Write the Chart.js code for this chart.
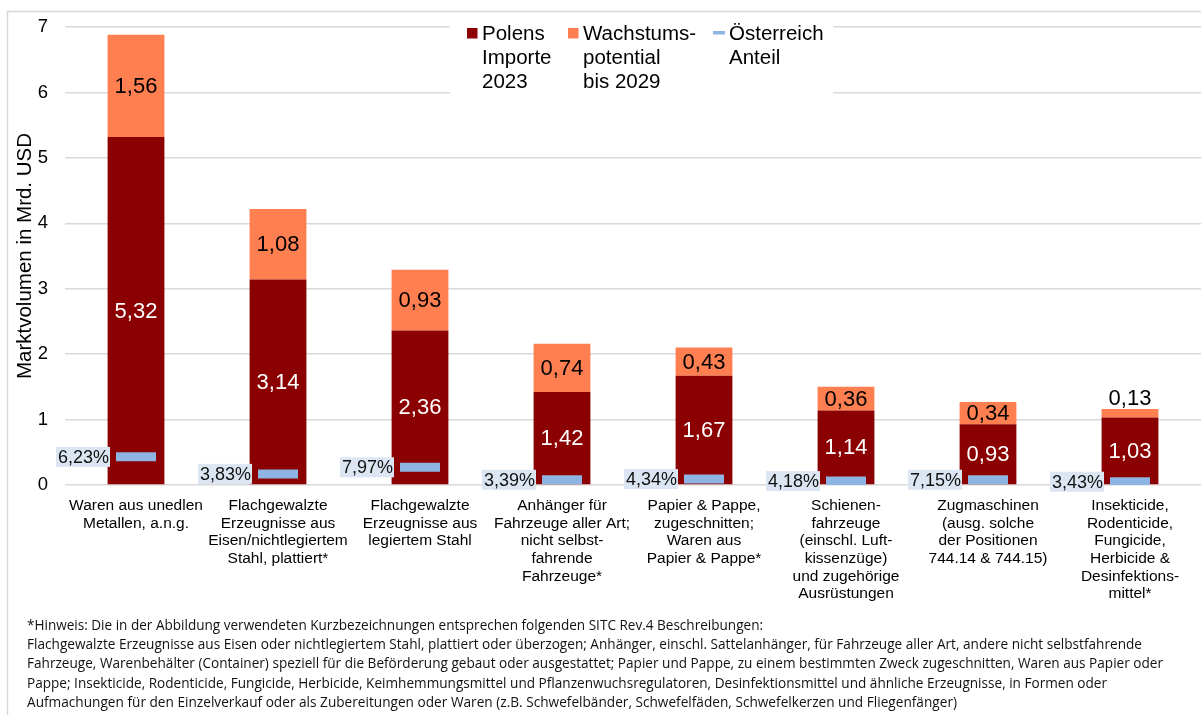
<!DOCTYPE html>
<html lang="de">
<head>
<meta charset="utf-8">
<title>Polens Importe 2023 und Wachstumspotential</title>
<script src="https://cdn.jsdelivr.net/npm/chart.js@4.4.1/dist/chart.umd.min.js"></script>
<style>
    html, body { margin: 0; padding: 0; background: #fff; }
    #wrap { position: relative; width: 1201px; height: 715px; }
</style>
</head>
<body>
<div id="wrap"><canvas id="chart"></canvas></div>
<script>
// Daten aus der Abbildung
const categories = [
    ['Waren aus unedlen', 'Metallen, a.n.g.'],
    ['Flachgewalzte', 'Erzeugnisse aus', 'Eisen/nichtlegiertem', 'Stahl, plattiert*'],
    ['Flachgewalzte', 'Erzeugnisse aus', 'legiertem Stahl'],
    ['Anhänger für', 'Fahrzeuge aller Art;', 'nicht selbst-', 'fahrende', 'Fahrzeuge*'],
    ['Papier & Pappe,', 'zugeschnitten;', 'Waren aus', 'Papier & Pappe*'],
    ['Schienen-', 'fahrzeuge', '(einschl. Luft-', 'kissenzüge)', 'und zugehörige', 'Ausrüstungen'],
    ['Zugmaschinen', '(ausg. solche', 'der Positionen', '744.14 & 744.15)'],
    ['Insekticide,', 'Rodenticide,', 'Fungicide,', 'Herbicide &', 'Desinfektions-', 'mittel*']
];
const importe2023 = [5.32, 3.14, 2.36, 1.42, 1.67, 1.14, 0.93, 1.03];
const wachstumspotential = [1.56, 1.08, 0.93, 0.74, 0.43, 0.36, 0.34, 0.13];
const oesterreichWert = [0.43, 0.17, 0.27, 0.08, 0.09, 0.06, 0.08, 0.05];
const oesterreichAnteil = [6.23, 3.83, 7.97, 3.39, 4.34, 4.18, 7.15, 3.43];
const yTicks = [0, 1, 2, 3, 4, 5, 6, 7];

const legendItems = [
    { lines: ['Polens', 'Importe', '2023'], color: '#8B0000', kind: 'box' },
    { lines: ['Wachstums-', 'potential', 'bis 2029'], color: '#FF7F50', kind: 'box' },
    { lines: ['Österreich', 'Anteil'], color: '#8DB4E2', kind: 'dash' }
];

const footnoteLines = [
    '*Hinweis: Die in der Abbildung verwendeten Kurzbezeichnungen entsprechen folgenden SITC Rev.4 Beschreibungen:',
    'Flachgewalzte Erzeugnisse aus Eisen oder nichtlegiertem Stahl, plattiert oder überzogen; Anhänger, einschl. Sattelanhänger, für Fahrzeuge aller Art, andere nicht selbstfahrende',
    'Fahrzeuge, Warenbehälter (Container) speziell für die Beförderung gebaut oder ausgestattet; Papier und Pappe, zu einem bestimmten Zweck zugeschnitten, Waren aus Papier oder',
    'Pappe; Insekticide, Rodenticide, Fungicide, Herbicide, Keimhemmungsmittel und Pflanzenwuchsregulatoren, Desinfektionsmittel und ähnliche Erzeugnisse, in Formen oder',
    'Aufmachungen für den Einzelverkauf oder als Zubereitungen oder Waren (z.B. Schwefelbänder, Schwefelfäden, Schwefelkerzen und Fliegenfänger)'
];
const footnoteEnds = [763, 1142, 1163, 1107, 957];

const FONT = '"Liberation Sans", Arial, sans-serif';
const fmt = v => v.toFixed(2).replace('.', ',');

const framePlugin = {
    id: 'frame',
    beforeDraw(chart) {
        const ctx = chart.ctx;
        ctx.save();
        ctx.strokeStyle = '#d9d9d9';
        ctx.lineWidth = 1.5;
        ctx.beginPath();
        ctx.moveTo(7.5, 715);
        ctx.lineTo(7.5, 11.5);
        ctx.lineTo(1201, 11.5);
        ctx.stroke();
        ctx.restore();
    }
};

const valueLabels = {
    id: 'valueLabels',
    afterDatasetsDraw(chart) {
        const ctx = chart.ctx;
        ctx.save();
        ctx.font = '22px ' + FONT;
        ctx.textAlign = 'center';
        ctx.textBaseline = 'middle';
        [0, 1].forEach(di => {
            chart.getDatasetMeta(di).data.forEach((bar, i) => {
                const v = chart.data.datasets[di].data[i];
                const h = bar.base - bar.y;
                let y = (bar.y + bar.base) / 2 + 1;
                if (h < 16) y = bar.y - 10;
                ctx.fillStyle = di === 0 ? '#ffffff' : '#000000';
                ctx.fillText(fmt(v), bar.x, y);
            });
        });

        // Österreich Anteil
        ctx.font = '18px ' + FONT;
        ctx.textAlign = 'right';
        chart.getDatasetMeta(2).data.forEach((pt, i) => {
            const text = fmt(oesterreichAnteil[i]) + '%';
            const w = ctx.measureText(text).width;
            const right = pt.x - 20 - 7;
            ctx.fillStyle = '#DCE6F2';
            ctx.fillRect(right - w - 2, pt.y - 10, w + 3, 20);
            ctx.fillStyle = '#111111';
            ctx.fillText(text, right, pt.y + 1);
        });
        ctx.restore();
    }
};

const legendAndNote = {
    id: 'legendAndNote',
    afterDraw(chart) {
        const ctx = chart.ctx;
        ctx.save();
        // Legende
        ctx.fillStyle = '#ffffff';
        ctx.fillRect(450, 20, 383, 78);
        ctx.font = '20.5px ' + FONT;
        ctx.textAlign = 'left';
        ctx.textBaseline = 'middle';
        const xs = [467, 568, 713];
        legendItems.forEach((item, k) => {
            const x = xs[k];
            ctx.fillStyle = item.color;
            if (item.kind === 'box') {
                ctx.fillRect(x, 28, 10.5, 10.5);
            } else {
                ctx.fillRect(x, 31, 12, 3.5);
            }
            ctx.fillStyle = '#000000';
            const tx = item.kind === 'box' ? x + 15 : x + 16;
            item.lines.forEach((line, j) => ctx.fillText(line, tx, 34 + j * 24));
        });

        // Fußnote
        ctx.font = '14px "Open Sans", "Noto Sans", sans-serif';
        ctx.fillStyle = '#111111';
        footnoteLines.forEach((line, j) => {
            const w = ctx.measureText(line).width;
            const target = footnoteEnds[j] - 27;
            ctx.save();
            ctx.translate(27, 626 + j * 19.2);
            ctx.scale(target / w, 1);
            ctx.fillText(line, 0, 0);
            ctx.restore();
        });
        ctx.restore();
    }
};

const ctx = document.getElementById('chart');
new Chart(ctx, {
    type: 'bar',
    data: {
        labels: categories,
        datasets: [
            {
                label: 'Polens Importe 2023',
                data: importe2023,
                backgroundColor: '#8B0000',
                borderWidth: 0,
                order: 1
            },
            {
                label: 'Wachstumspotential bis 2029',
                data: wachstumspotential,
                backgroundColor: '#FF7F50',
                borderWidth: 0,
                order: 1
            },
            {
                type: 'line',
                label: 'Österreich Anteil',
                data: oesterreichWert,
                showLine: false,
                stack: 'oesterreich',
                pointStyle: 'line',
                pointRadius: 20,
                pointHoverRadius: 20,
                pointBorderWidth: 9,
                pointBorderColor: '#8DB4E2',
                pointBackgroundColor: '#8DB4E2',
                order: 0
            }
        ]
    },
    options: {
        responsive: true,
        maintainAspectRatio: false,
        animation: false,
        events: [],
        layout: {
            autoPadding: false,
            padding: { left: 13, right: 0, top: 27, bottom: 112 }
        },
        datasets: {
            bar: {
                barPercentage: 0.4,
                categoryPercentage: 1
            }
        },
        plugins: {
            legend: { display: false },
            tooltip: { enabled: false }
        },
        scales: {
            x: {
                stacked: true,
                grid: { display: false },
                border: { display: false },
                afterFit: scale => {
                    scale.height = 118;
                    scale.paddingLeft = 0;
                    scale.paddingRight = 0;
                },
                ticks: {
                    autoSkip: false,
                    maxRotation: 0,
                    minRotation: 0,
                    padding: 4,
                    color: '#000000',
                    font: { family: FONT, size: 15.5, lineHeight: 1.14 }
                }
            },
            y: {
                stacked: true,
                min: yTicks[0],
                max: yTicks[yTicks.length - 1],
                afterBuildTicks: scale => {
                    scale.ticks = yTicks.map(v => ({ value: v }));
                },
                afterFit: scale => {
                    scale.width = 52;
                    scale.paddingTop = 0;
                    scale.paddingBottom = 0;
                },
                grid: { color: '#d9d9d9', lineWidth: 1.5, drawTicks: false },
                border: { display: false },
                ticks: {
                    padding: 17,
                    color: '#000000',
                    font: { family: FONT, size: 18.5 },
                    callback: v => String(v)
                },
                title: {
                    display: true,
                    text: 'Marktvolumen in Mrd. USD',
                    color: '#000000',
                    font: { family: FONT, size: 20.5 },
                    padding: 0
                }
            }
        }
    },
    plugins: [framePlugin, valueLabels, legendAndNote]
});
</script>
</body>
</html>
